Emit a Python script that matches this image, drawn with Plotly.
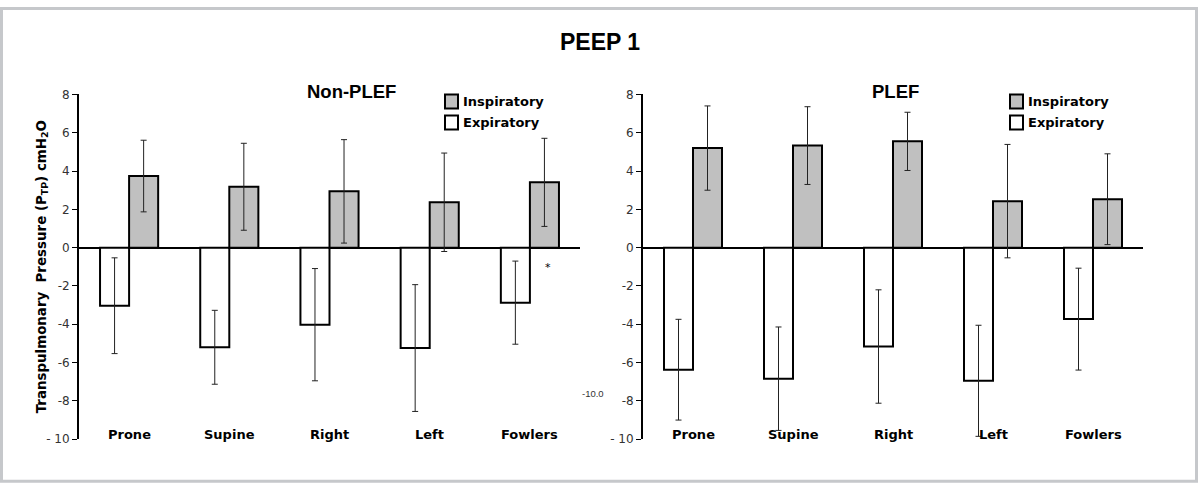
import plotly.graph_objects as go

categories = ["Prone", "Supine", "Right", "Left", "Fowlers"]
series_names = ["Inspiratory", "Expiratory"]

nonplef_insp = [3.74, 3.18, 2.94, 2.37, 3.41]
nonplef_insp_err = [1.87, 2.27, 2.70, 2.57, 2.30]
nonplef_exp = [-3.03, -5.20, -4.02, -5.24, -2.87]
nonplef_exp_err = [2.50, 1.93, 2.93, 3.31, 2.17]

plef_insp = [5.20, 5.33, 5.55, 2.43, 2.53]
plef_insp_err = [2.20, 2.03, 1.52, 2.96, 2.37]
plef_exp = [-6.37, -6.84, -5.16, -6.95, -3.73]
plef_exp_err = [2.63, 2.70, 2.96, 2.90, 2.66]

y_ticks = [8, 6, 4, 2, 0, -2, -4, -6, -8, -10]
y_tick_text = ["8", "6", "4", "2", "0", "-2", "-4", "-6", "-8", "- 10"]

INSP_COLOR = "#c0c0c0"
EXP_COLOR = "#ffffff"
W, H = 1200, 489
OFF, SC = 6.5, 0.972  # vertical compensation


def py(y_img):
    """paper y for a target image row"""
    return max(0.0, min(1.0, 1 - ((y_img - OFF) / SC) / H))


fig = go.Figure()


def add_bars(xa, ya, exp, exp_err, insp, insp_err):
    fig.add_trace(go.Bar(
        x=categories, y=exp, name="Expiratory", xaxis=xa, yaxis=ya,
        marker=dict(color=EXP_COLOR, line=dict(color="black", width=2)),
        error_y=dict(type="data", array=exp_err, color="#222", thickness=1, width=3),
        offsetgroup="exp", showlegend=False))
    fig.add_trace(go.Bar(
        x=categories, y=insp, name="Inspiratory", xaxis=xa, yaxis=ya,
        marker=dict(color=INSP_COLOR, line=dict(color="black", width=2)),
        error_y=dict(type="data", array=insp_err, color="#222", thickness=1, width=3),
        offsetgroup="insp", showlegend=False))


add_bars("x", "y", nonplef_exp, nonplef_exp_err, nonplef_insp, nonplef_insp_err)
add_bars("x2", "y2", plef_exp, plef_exp_err, plef_insp, plef_insp_err)

ydom = [py(439), py(94)]
tickfont = dict(family="DejaVu Sans, Verdana, sans-serif", size=12, color="#333")

yaxis_common = dict(
    range=[-10, 8], domain=ydom, tickvals=y_ticks, ticktext=y_tick_text,
    showline=True, linecolor="black", linewidth=2, ticks="outside", ticklen=5,
    tickcolor="black", tickwidth=1, showgrid=False, zeroline=True,
    zerolinecolor="black", zerolinewidth=2, tickfont=tickfont, fixedrange=True)
xaxis_common = dict(range=[-0.5, 4.5], showline=False, showgrid=False,
                    zeroline=False, showticklabels=False, ticks="", fixedrange=True)

fig.update_layout(
    width=W, height=H,
    margin=dict(l=0, r=0, t=0, b=0),
    paper_bgcolor="white", plot_bgcolor="rgba(0,0,0,0)",
    barmode="group", bargap=0.42, bargroupgap=0,
    showlegend=False,
    xaxis=dict(domain=[79 / W, 580 / W], anchor="y", **xaxis_common),
    yaxis=dict(anchor="x", **yaxis_common),
    xaxis2=dict(domain=[643 / W, 1143 / W], anchor="y2", **xaxis_common),
    yaxis2=dict(anchor="x2", **yaxis_common),
)

annotations = []
cat_font = dict(family="DejaVu Sans, Verdana, sans-serif", size=13, color="black")
for xa, ya in (("x", "y"), ("x2", "y2")):
    for c in categories:
        annotations.append(dict(x=c, y=-10, xref=xa, yref=ya, text="<b>" + c + "</b>",
                                showarrow=False, yanchor="middle", yshift=5, font=cat_font))

title_font = dict(family="Liberation Sans, Arial, sans-serif", size=18.5, color="black")
annotations += [
    dict(x=600 / W, y=py(42), xref="paper", yref="paper", text="<b>PEEP 1</b>",
         showarrow=False, xanchor="center", yanchor="middle",
         font=dict(family="Liberation Sans, Arial, sans-serif", size=23, color="black")),
    dict(x=351 / W, y=py(91), xref="paper", yref="paper", text="<b>Non-PLEF</b>",
         showarrow=False, xanchor="center", yanchor="middle", font=title_font),
    dict(x=895 / W, y=py(91), xref="paper", yref="paper", text="<b>PLEF</b>",
         showarrow=False, xanchor="center", yanchor="middle", font=title_font),
    dict(x=42 / W, y=py(267), xref="paper", yref="paper",
         text="<b>Transpulmonary  Pressure (P<sub>TP</sub>) cmH<sub>2</sub>O</b>",
         textangle=-90, showarrow=False, xanchor="center", yanchor="middle",
         font=dict(family="DejaVu Sans, Verdana, sans-serif", size=13.4, color="black")),
    dict(x=548 / W, y=py(267), xref="paper", yref="paper", text="*",
         showarrow=False, font=dict(family="DejaVu Sans, sans-serif", size=11, color="black")),
    dict(x=593 / W, y=py(401), xref="paper", yref="paper", text="-10.0",
         showarrow=False, font=dict(family="Liberation Sans, Arial, sans-serif", size=9.5, color="#333")),
]

# legends (manual)
leg_font = dict(family="DejaVu Sans, Verdana, sans-serif", size=13, color="black")
shapes = []
for lx in (445, 1010):
    for i, (nm, col) in enumerate(zip(series_names, [INSP_COLOR, EXP_COLOR])):
        cy = 101 + i * 21
        shapes.append(dict(type="rect", xref="paper", yref="paper",
                           x0=lx / W, x1=(lx + 13) / W, y0=py(cy + 7), y1=py(cy - 7),
                           fillcolor=col, line=dict(color="black", width=2)))
        annotations.append(dict(x=(lx + 16) / W, y=py(cy), xref="paper", yref="paper",
                                text="<b>" + nm + "</b>", showarrow=False,
                                xanchor="left", yanchor="middle", font=leg_font))

# outer frame
shapes.append(dict(type="rect", xref="paper", yref="paper", x0=1.5 / W, x1=1196.5 / W,
                   y0=py(481), y1=1 - 1.5 / H, line=dict(color="#c6c8cb", width=3),
                   fillcolor="rgba(0,0,0,0)", layer="below"))

fig.update_layout(annotations=annotations, shapes=shapes)
fig.write_html(
    "out.html",
    config={"displayModeBar": False},
    post_script=(
        "document.documentElement.style.margin='0';"
        "document.documentElement.style.overflow='hidden';"
        "document.body.style.margin='0';"
        "document.body.style.overflow='hidden';"
    ),
)
